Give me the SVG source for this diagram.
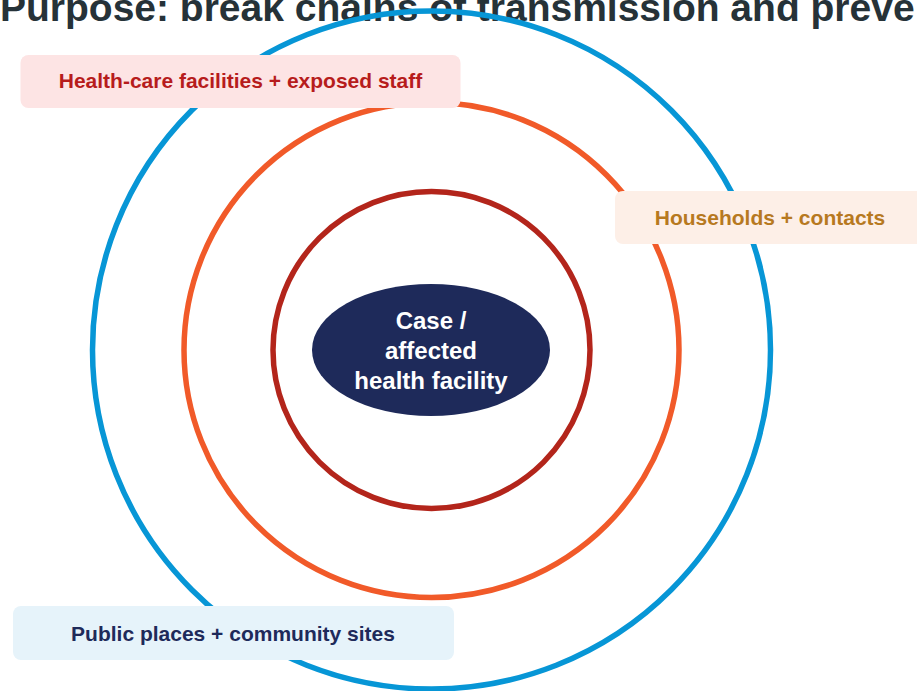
<svg xmlns="http://www.w3.org/2000/svg" width="917" height="691" viewBox="0 0 917 691">
<style>
.title{font-family:"Liberation Sans",Arial,sans-serif;font-weight:bold;font-size:39px;fill:#263238}
.ring{fill:none;stroke-width:5.5}
.lbl{font-family:"Liberation Sans",Arial,sans-serif;font-weight:bold;font-size:21px;text-anchor:middle}
.core{font-family:"Liberation Sans",Arial,sans-serif;font-weight:bold;font-size:24px;text-anchor:middle;fill:#ffffff}
</style>
<rect width="917" height="691" fill="#ffffff"/>
<text class="title" x="0" y="21">Purpose: break chains of transmission and preve</text>
<g id="rings">
<circle id="ring-outer" class="ring" cx="431.5" cy="350" r="339" stroke="#0796d6"/>
<circle id="ring-middle" class="ring" cx="431.5" cy="350" r="247.5" stroke="#f15a29"/>
<circle id="ring-inner" class="ring" cx="431.5" cy="350" r="158.5" stroke="#b3251b"/>
</g>
<g id="node-core">
<ellipse cx="431" cy="350" rx="119" ry="66" fill="#1e2a5a"/>
<text class="core" x="431" y="329">Case /</text>
<text class="core" x="431" y="359">affected</text>
<text class="core" x="431" y="389">health facility</text>
</g>
<g id="node-healthcare">
<rect x="20.5" y="55" width="440" height="53" rx="8" fill="#fde4e4"/>
<text class="lbl" x="240.5" y="88" fill="#b71c1c">Health-care facilities + exposed staff</text>
</g>
<g id="node-households">
<rect x="615" y="191" width="312" height="53" rx="8" fill="#fdefe7"/>
<text class="lbl" x="770" y="225" fill="#b7791f">Households + contacts</text>
</g>
<g id="node-public">
<rect x="13" y="606" width="441" height="54" rx="8" fill="#e6f3fa"/>
<text class="lbl" x="233" y="641" fill="#1e2a5a">Public places + community sites</text>
</g>
</svg>
